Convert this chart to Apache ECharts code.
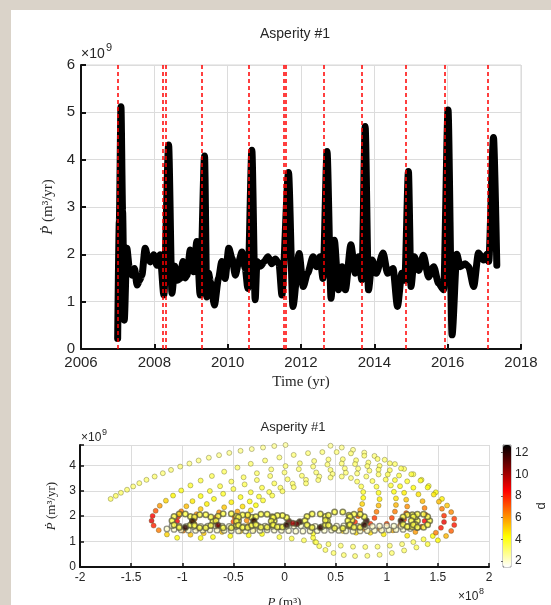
<!DOCTYPE html>
<html>
<head>
<meta charset="utf-8">
<script src="https://cdn.jsdelivr.net/npm/echarts@6/dist/echarts.min.js"></script>
<style>
  html, body { margin: 0; padding: 0; background: #dad3c9; }
  #panel { position: absolute; left: 11px; top: 10px; width: 540px; height: 595px; background: #fff; }
  #chart { position: absolute; left: 0; top: 0; width: 551px; height: 605px; }
</style>
</head>
<body>
<div id="panel"></div>
<div id="chart"></div>
<script>
// top panel: Pdot (x1e9 m^3/yr) against time
var tYears = [2007.00, 2007.045, 2007.09, 2007.135, 2007.18, 2007.25, 2007.32, 2007.39, 2007.46, 2007.53,
  2007.60, 2007.66, 2007.75, 2007.82, 2007.89, 2007.98, 2008.07, 2008.16, 2008.26, 2008.39,
  2008.48, 2008.56, 2008.63, 2008.71, 2008.78, 2008.84, 2008.89, 2008.98, 2009.07, 2009.16,
  2009.25, 2009.37, 2009.43, 2009.48, 2009.53, 2009.64, 2009.75, 2009.84, 2009.93, 2010.03,
  2010.12, 2010.21, 2010.30, 2010.39, 2010.48, 2010.55, 2010.66, 2010.75, 2010.80, 2010.90,
  2011.00, 2011.10, 2011.20, 2011.30, 2011.40, 2011.48, 2011.66, 2011.78, 2011.95, 2012.06,
  2012.18, 2012.33, 2012.42, 2012.52, 2012.60, 2012.71, 2012.82, 2012.91, 2013.02, 2013.12,
  2013.21, 2013.36, 2013.48, 2013.57, 2013.66, 2013.75, 2013.84, 2013.94, 2014.05, 2014.24,
  2014.36, 2014.51, 2014.63, 2014.75, 2014.83, 2014.93, 2015.00, 2015.09, 2015.21, 2015.34,
  2015.48, 2015.62, 2015.75, 2015.89, 2016.01, 2016.12, 2016.25, 2016.34, 2016.48, 2016.57,
  2016.71, 2016.84, 2016.98, 2017.07, 2017.12, 2017.25, 2017.34];
var tPdot = [0.22, 2.7, 5.12, 2.9, 0.61, 2.13, 1.7, 1.56, 1.7, 1.35,
  1.45, 1.56, 2.13, 1.95, 1.84, 1.99, 1.77, 1.99, 1.14, 4.31,
  1.18, 1.75, 1.45, 1.49, 1.85, 1.5, 1.56, 2.09, 1.63, 2.27,
  1.14, 4.08, 1.1, 1.6, 1.42, 0.93, 1.49, 1.85, 1.49, 2.13,
  1.91, 1.56, 1.84, 2.05, 1.7, 1.28, 4.20, 1.04, 1.85, 1.75,
  1.85, 1.95, 1.8, 1.9, 1.8, 1.14, 3.73, 0.9, 2.02, 1.32,
  1.6, 1.95, 1.74, 1.95, 1.49, 4.17, 1.07, 2.3, 1.25, 1.74,
  1.25, 2.2, 1.6, 1.95, 1.46, 4.70, 1.25, 1.88, 1.6, 2.03,
  1.6, 1.7, 0.9, 1.6, 1.45, 3.75, 1.32, 1.95, 1.66, 1.98,
  1.52, 1.74, 1.39, 1.25, 5.05, 0.30, 2.0, 1.74, 1.8, 1.74,
  1.32, 2.03, 1.88, 2.0, 1.85, 4.47, 1.77];
// red dashed event markers
var eventYears = [2007.01, 2008.23, 2008.30, 2009.29, 2010.57, 2011.52, 2011.58, 2012.62,
  2013.67, 2014.87, 2015.93, 2017.10];

// bottom panel: [P (x1e8 m^3), Pdot (x1e9 m^3/yr), d]
var arcA = [[-1.70,2.68,3.2],[-1.65,2.80,3.2],[-1.60,2.92,3.1],[-1.54,3.04,3.1],[-1.48,3.17,3.0],
  [-1.42,3.30,3.0],[-1.35,3.43,3.0],[-1.27,3.56,3.0],[-1.19,3.69,2.9],[-1.11,3.82,2.9],[-1.02,3.95,2.9],
  [-0.93,4.07,2.8],[-0.84,4.19,2.8],[-0.74,4.30,2.8],[-0.64,4.40,2.7],[-0.54,4.49,2.7],[-0.43,4.57,2.7],
  [-0.32,4.64,2.6],[-0.21,4.70,2.6],[-0.10,4.76,2.6],[0.01,4.80,2.5],[0.12,4.83,2.5],[0.23,4.84,2.5],
  [0.34,4.82,2.6],[0.45,4.77,2.6],[0.56,4.70,2.7],[0.67,4.61,2.7],[0.78,4.50,2.8],[0.88,4.37,2.9],
  [0.98,4.22,3.0],[1.08,4.05,3.1],[1.17,3.86,3.2],[1.26,3.65,3.4],[1.34,3.43,3.6],[1.41,3.19,3.8],
  [1.48,2.94,4.1],[1.54,2.68,4.5],[1.59,2.42,5.2],[1.63,2.16,6.3],[1.66,1.90,7.6],[1.66,1.65,8.2],
  [1.63,1.42,7.0],[1.58,1.22,5.5],[1.50,1.05,4.3],[1.40,0.90,3.6]];
var arcLow = [[1.29,0.77,3.3],[1.17,0.65,3.1],[1.05,0.55,3.0],[0.93,0.48,3.0],[0.81,0.44,3.0],
  [0.69,0.43,3.0],[0.58,0.47,3.0],[0.48,0.55,3.1],[0.40,0.67,3.2],[0.34,0.82,3.4],[0.30,0.98,3.6],
  [0.28,1.15,3.8],[0.28,1.32,4.0],
  [1.45,1.22,4.2],[1.36,1.09,3.6],[1.26,0.98,3.2],[1.15,0.90,3.0],[1.03,0.84,3.0],[0.91,0.80,3.0],
  [0.79,0.79,3.0],[0.67,0.80,3.0],[0.55,0.84,3.0],[0.43,0.90,3.1],[0.31,0.97,3.2],[0.19,1.05,3.3],
  [0.07,1.12,3.5],[-0.05,1.18,3.6]];
var arcB = [[-1.05,1.15,4.2],[-1.15,1.28,5.0],[-1.23,1.45,6.5],[-1.28,1.63,8.0],[-1.30,1.82,9.0],
  [-1.29,2.01,8.5],[-1.26,2.21,7.2],[-1.22,2.41,6.0],[-1.16,2.61,5.0],[-1.09,2.81,4.4],[-1.01,3.01,4.0],
  [-0.92,3.21,3.7],[-0.82,3.40,3.5],[-0.71,3.58,3.3],[-0.59,3.75,3.2],[-0.46,3.91,3.1],[-0.33,4.06,3.0],
  [-0.19,4.19,3.0],[-0.05,4.31,2.9],[0.09,4.41,2.9],[0.23,4.48,2.9],[0.37,4.52,2.9],[0.51,4.52,2.9],
  [0.65,4.47,3.0],[0.78,4.38,3.0],[0.91,4.25,3.1],[1.03,4.08,3.2],[1.14,3.88,3.3],[1.24,3.65,3.5],
  [1.33,3.40,3.8],[1.40,3.13,4.1],[1.46,2.85,4.6],[1.51,2.57,5.4],[1.54,2.29,6.5],[1.56,2.02,7.8],
  [1.56,1.77,8.8],[1.53,1.54,8.2],[1.48,1.35,6.5]];
var arcC = [[-0.82,1.14,4.2],[-0.92,1.27,5.2],[-0.99,1.43,6.5],[-1.03,1.61,8.0],[-1.05,1.80,8.8],
  [-1.04,1.99,8.0],[-1.01,2.19,6.6],[-0.96,2.39,5.4],[-0.90,2.59,4.6],[-0.82,2.79,4.1],[-0.73,2.99,3.8],
  [-0.63,3.18,3.5],[-0.52,3.36,3.3],[-0.40,3.53,3.2],[-0.27,3.69,3.1],[-0.13,3.84,3.0],[0.01,3.97,3.0],
  [0.15,4.08,3.0],[0.29,4.17,3.0],[0.43,4.23,3.0],[0.57,4.24,3.0],[0.70,4.20,3.1],[0.82,4.11,3.1],
  [0.93,3.98,3.2],[1.03,3.81,3.3],[1.12,3.60,3.5],[1.20,3.37,3.8],[1.26,3.12,4.2],[1.31,2.86,4.7],
  [1.35,2.59,5.5],[1.37,2.32,6.5],[1.38,2.06,7.6],[1.37,1.81,8.5],[1.34,1.58,7.8],[1.28,1.38,6.0],
  [1.20,1.23,4.6]];
var arcD = [[-0.70,1.18,4.2],[-0.79,1.33,5.2],[-0.85,1.50,6.2],[-0.88,1.69,7.0],[-0.88,1.88,7.0],
  [-0.86,2.08,6.2],[-0.82,2.28,5.2],[-0.76,2.48,4.5],[-0.69,2.68,4.1],[-0.60,2.88,3.8],[-0.50,3.07,3.5],
  [-0.39,3.25,3.3],[-0.27,3.42,3.2],[-0.14,3.58,3.1],[0.00,3.72,3.0],[0.14,3.85,3.0],[0.28,3.95,3.0],
  [0.42,4.03,3.0],[0.56,4.07,3.0],[0.69,4.05,3.1],[0.81,3.97,3.1],[0.92,3.83,3.2],[1.01,3.64,3.4],
  [1.08,3.42,3.7],[1.13,3.18,4.0],[1.17,2.92,4.5],[1.19,2.65,5.2],[1.20,2.38,6.2],[1.19,2.12,7.2],
  [1.17,1.87,7.8],[1.13,1.64,7.0],[1.06,1.44,5.6],[0.97,1.29,4.5]];
var arcE = [[-0.53,1.22,4.2],[-0.61,1.38,5.3],[-0.66,1.56,6.8],[-0.68,1.75,7.8],[-0.67,1.95,7.4],
  [-0.64,2.15,6.2],[-0.59,2.35,5.2],[-0.52,2.55,4.5],[-0.43,2.75,4.0],[-0.33,2.94,3.7],[-0.22,3.12,3.5],
  [-0.10,3.29,3.3],[0.03,3.45,3.2],[0.17,3.59,3.1],[0.31,3.72,3.0],[0.45,3.82,3.0],[0.59,3.88,3.0],
  [0.72,3.87,3.0],[0.83,3.79,3.1],[0.92,3.64,3.2],[0.99,3.44,3.4],[1.04,3.21,3.7],[1.07,2.96,4.1],
  [1.09,2.70,4.7],[1.09,2.44,5.5],[1.08,2.18,6.5],[1.05,1.93,7.5],[1.00,1.70,7.6],[0.93,1.50,6.2],
  [0.84,1.35,4.8]];
var arcF = [[-0.35,1.25,4.2],[-0.43,1.41,5.2],[-0.48,1.59,6.5],[-0.50,1.78,7.3],[-0.49,1.98,7.0],
  [-0.46,2.18,5.8],[-0.41,2.38,4.8],[-0.34,2.58,4.2],[-0.25,2.77,3.8],[-0.15,2.95,3.5],[-0.04,3.12,3.3],
  [0.08,3.28,3.2],[0.21,3.43,3.1],[0.34,3.56,3.0],[0.47,3.66,3.0],[0.60,3.71,3.0],[0.71,3.68,3.0],
  [0.80,3.56,3.1],[0.86,3.38,3.3],[0.90,3.16,3.6],[0.92,2.92,4.0],[0.93,2.67,4.6],[0.92,2.42,5.4],
  [0.90,2.17,6.5],[0.88,1.93,7.6],[0.84,1.70,7.8],[0.78,1.50,6.2],[0.70,1.35,4.8]];
var arcG = [[-0.22,1.30,4.2],[-0.30,1.46,5.0],[-0.35,1.64,5.8],[-0.37,1.83,6.2],[-0.36,2.03,5.6],
  [-0.33,2.23,4.8],[-0.28,2.43,4.2],[-0.21,2.62,3.8],[-0.12,2.81,3.5],[-0.02,2.98,3.3],[0.09,3.14,3.2],
  [0.21,3.29,3.1],[0.33,3.42,3.0],[0.45,3.52,3.0],[0.56,3.56,3.0],[0.65,3.50,3.0],[0.71,3.36,3.2],
  [0.75,3.17,3.4],[0.77,2.95,3.8],[0.77,2.72,4.3],[0.76,2.48,5.0],[0.74,2.24,6.0],[0.72,2.00,7.2],
  [0.69,1.77,7.8],[0.64,1.57,6.5],[0.57,1.42,5.0]];
// small loops near Pdot ~ 1.8
var loops = [
  [-0.9,1.82,3.5],[-0.92,1.99,3.5],[-0.97,2.09,3.5],[-1.03,2.09,5],[-1.08,1.99,3.5],[-1.1,1.82,3.5],[-1.08,1.65,3.5],[-1.03,1.55,3.5],[-0.97,1.55,12],[-0.92,1.65,3.5],
  [-0.7,1.8,3.5],[-0.72,1.97,3.5],[-0.77,2.06,3.5],[-0.83,2.06,3.5],[-0.88,1.97,3.5],[-0.9,1.8,12],[-0.88,1.63,3.5],[-0.83,1.54,3.5],[-0.77,1.54,3.5],[-0.72,1.63,3.5],
  [-0.45,1.82,3.5],[-0.47,2.0,3.5],[-0.52,2.1,3.5],[-0.6,2.1,3.5],[-0.65,2.0,3.5],[-0.67,1.82,3.5],[-0.65,1.64,11],[-0.6,1.54,3.5],[-0.52,1.54,3.5],[-0.47,1.64,3.5],
  [-0.3,1.8,3.5],[-0.32,1.96,3.5],[-0.36,2.05,3.5],[-0.41,2.05,3.5],[-0.45,1.96,3.5],[-0.47,1.8,3.5],[-0.45,1.64,3.5],[-0.41,1.55,3.5],[-0.36,1.55,3.5],[-0.32,1.64,3.5],
  [-0.1,1.82,3.5],[-0.12,1.98,3.5],[-0.17,2.08,3.5],[-0.23,2.08,3.5],[-0.28,1.98,3.5],[-0.3,1.82,12],[-0.28,1.66,3.5],[-0.23,1.56,3.5],[-0.17,1.56,3.5],[-0.12,1.66,3.5],
  [0.04,1.8,11],[0.02,1.95,3.5],[-0.02,2.03,3.5],[-0.07,2.03,3.5],[-0.11,1.95,3.5],[-0.13,1.8,3.5],[-0.11,1.65,3.5],[-0.07,1.57,3.5],[-0.02,1.57,3.5],[0.02,1.65,12],
  [0.15,1.78,12],[0.12,1.7,11],[0.08,1.72,10],
  [0.42,1.82,3.5],[0.4,1.99,3.5],[0.35,2.09,3.5],[0.27,2.09,3.5],[0.22,1.99,3.5],[0.2,1.82,3.5],[0.22,1.65,3.5],[0.27,1.55,3.5],[0.35,1.55,12],[0.4,1.65,3.5],
  [0.66,1.84,3.5],[0.63,2.04,3.5],[0.57,2.16,3.5],[0.49,2.16,3.5],[0.43,2.04,3.5],[0.4,1.84,3.5],[0.43,1.64,3.5],[0.49,1.52,3.5],[0.57,1.52,3.5],[0.63,1.64,3.5],
  [0.8,1.82,12],[0.78,1.98,3.5],[0.74,2.08,3.5],[0.68,2.08,3.5],[0.64,1.98,3.5],[0.62,1.82,3.5],[0.64,1.66,3.5],[0.68,1.56,3.5],[0.74,1.56,3.5],[0.78,1.66,12],
  [1.3,1.82,3.5],[1.28,1.97,3.5],[1.25,2.06,3.5],[1.2,2.06,3.5],[1.16,1.97,3.5],[1.14,1.82,12],[1.16,1.67,3.5],[1.2,1.58,3.5],[1.25,1.58,3.5],[1.28,1.67,3.5],
  [1.42,1.82,3.5],[1.4,1.98,3.5],[1.36,2.08,3.5],[1.3,2.08,3.5],[1.26,1.98,3.5],[1.24,1.82,3.5],[1.26,1.66,3.5],[1.3,1.56,3.5],[1.36,1.56,3.5],[1.4,1.66,3.5]];
// grey drift band under the loops
var band = [[-1.15,1.50,2],[-1.08,1.48,2],[-1.01,1.46,2],[-0.94,1.45,2],[-0.87,1.44,2],[-0.80,1.45,2],
  [-0.73,1.46,2],[-0.66,1.45,2],[-0.59,1.44,2],[-0.52,1.43,2],[-0.45,1.42,2],[-0.38,1.42,2],
  [-0.31,1.43,2],[-0.24,1.44,2],[-0.17,1.46,2],[-0.10,1.45,2],[-0.03,1.44,2],[0.04,1.43,2],
  [0.11,1.41,2],[0.18,1.41,2],[0.25,1.42,2],[0.32,1.43,2],[0.39,1.44,2],[0.46,1.45,2],
  [0.53,1.44,2],[0.60,1.42,2],[0.67,1.41,2],[0.74,1.42,2],[0.81,1.43,2],[0.88,1.44,2],
  [0.95,1.45,2],[1.02,1.46,2],[1.09,1.47,2],[1.16,1.48,2],[1.23,1.51,2],[1.30,1.55,2],
  [-1.10,1.62,2],[-1.03,1.61,2],[-0.96,1.60,2],[-0.89,1.59,2],[-0.82,1.60,2],[-0.75,1.61,2],
  [-0.68,1.62,2],[-0.61,1.61,2],[-0.54,1.60,2],[-0.47,1.59,2],[-0.40,1.59,2],[-0.33,1.60,2],
  [-0.26,1.62,2],[-0.19,1.61,2],[-0.12,1.60,2],[-0.05,1.59,2],[0.02,1.60,2],[0.09,1.61,2],
  [0.16,1.62,2],[0.23,1.61,2],[0.30,1.60,2],[0.37,1.59,2],[0.44,1.60,2],[0.51,1.61,2],
  [0.58,1.62,2],[0.65,1.61,2],[0.72,1.60,2],[0.79,1.59,2],[0.86,1.60,2],[0.93,1.61,2],
  [1.00,1.62,2],[1.07,1.61,2],[1.14,1.60,2],[1.21,1.60,2]];

var dMin = 1.45, dMax = 12.7;
var dTicks = [2, 4, 6, 8, 10, 12];

var txt = '#262626';
var sans = 'Liberation Sans, Arial, sans-serif';
var serif = 'Liberation Serif, Times New Roman, serif';

var chart = echarts.init(document.getElementById('chart'));

var lineData = tYears.map(function (y, i) { return [y, tPdot[i]]; });

function scatter(name, data, size, border, bw) {
  return {
    name: name, type: 'scatter', xAxisIndex: 1, yAxisIndex: 1,
    data: data, symbolSize: size,
    itemStyle: { borderColor: border, borderWidth: bw },
    silent: true
  };
}
var arcEdge = 'rgba(90,90,30,0.6)';
var loopEdge = 'rgba(85,85,55,0.9)';

var option = {
  animation: false,
  title: [
    { text: 'Asperity #1', left: 290, top: 22, textAlign: 'center',
      textStyle: { fontFamily: sans, fontSize: 14, fontWeight: 'normal', color: txt } },
    { text: 'Asperity #1', left: 288, top: 416, textAlign: 'center',
      textStyle: { fontFamily: sans, fontSize: 13, fontWeight: 'normal', color: txt } }
  ],
  grid: [
    { left: 81, top: 65, width: 440, height: 284, show: true, borderColor: '#d6d6d6', borderWidth: 1,
      outerBoundsMode: 'none' },
    { left: 80, top: 445, width: 409, height: 122, show: false, outerBoundsMode: 'none' },
    { left: 503, top: 445, width: 8, height: 122, show: true, borderColor: '#999', borderWidth: 1,
      outerBoundsMode: 'none' }
  ],
  xAxis: [
    { type: 'value', gridIndex: 0, min: 2006, max: 2018, interval: 2,
      name: 'Time (yr)', nameLocation: 'middle', nameGap: 26,
      nameTextStyle: { fontFamily: serif, fontSize: 15, color: txt },
      axisLine: { lineStyle: { color: '#111', width: 2 } },
      axisTick: { inside: true, length: 5, lineStyle: { color: '#111', width: 2 } },
      axisLabel: { fontFamily: sans, fontSize: 15, color: txt, margin: 6,
        formatter: function (v) { return String(v); } },
      splitLine: { lineStyle: { color: '#dcdcdc' } } },
    { type: 'value', gridIndex: 1, min: -2, max: 2, interval: 0.5,
      name: '{i|P} (m³)', nameLocation: 'middle', nameGap: 29,
      nameTextStyle: { fontFamily: serif, fontSize: 13, color: txt,
        rich: { i: { fontFamily: serif, fontSize: 13, fontStyle: 'italic', color: txt } } },
      axisLine: { onZero: false, lineStyle: { color: '#111', width: 2 } },
      axisTick: { inside: true, length: 4, lineStyle: { color: '#111', width: 1.5 } },
      axisLabel: { fontFamily: sans, fontSize: 12, color: txt, margin: 5 },
      splitLine: { lineStyle: { color: '#dcdcdc' } } },
    { type: 'value', gridIndex: 2, min: 0, max: 1, show: false }
  ],
  yAxis: [
    { type: 'value', gridIndex: 0, min: 0, max: 6, interval: 1,
      name: '{i|Ṗ} (m³/yr)', nameLocation: 'middle', nameGap: 12,
      nameTextStyle: { fontFamily: serif, fontSize: 15, color: txt,
        rich: { i: { fontFamily: serif, fontSize: 15, fontStyle: 'italic', color: txt } } },
      axisLine: { lineStyle: { color: '#111', width: 2 } },
      axisTick: { inside: true, length: 5, lineStyle: { color: '#111', width: 2 } },
      axisLabel: { fontFamily: sans, fontSize: 15, color: txt, margin: 6 },
      splitLine: { lineStyle: { color: '#dcdcdc' } } },
    { type: 'value', gridIndex: 1, min: 0, max: 4.8, interval: 1,
      name: '{i|Ṗ} (m³/yr)', nameLocation: 'middle', nameGap: 12,
      nameTextStyle: { fontFamily: serif, fontSize: 13, color: txt,
        rich: { i: { fontFamily: serif, fontSize: 13, fontStyle: 'italic', color: txt } } },
      axisLine: { onZero: false, lineStyle: { color: '#111', width: 2 } },
      axisTick: { inside: true, length: 4, lineStyle: { color: '#111', width: 1.5 } },
      axisLabel: { fontFamily: sans, fontSize: 12, color: txt, margin: 4,
        formatter: function (v) { return v % 1 === 0 ? String(v) : ''; } },
      splitLine: { lineStyle: { color: '#dcdcdc' } } },
    { type: 'value', gridIndex: 2, min: dMin, max: dMax, position: 'right',
      name: 'd', nameLocation: 'middle', nameGap: 24, nameRotate: 90,
      nameTextStyle: { fontFamily: sans, fontSize: 13, color: txt },
      axisLine: { show: true, lineStyle: { color: '#888', width: 1 } },
      axisTick: { show: true, inside: true, length: 2, customValues: dTicks, lineStyle: { color: '#666' } },
      axisLabel: { fontFamily: sans, fontSize: 12, color: txt, margin: 4, customValues: dTicks },
      splitLine: { show: false } }
  ],
  visualMap: {
    type: 'continuous', min: dMin, max: dMax, dimension: 2,
    seriesIndex: [1, 2, 3, 4, 5, 6, 7, 8, 9, 10],
    left: 488, top: 430, itemWidth: 8, itemHeight: 122,
    calculable: false, hoverLink: false,
    inRange: { color: ['#ffffff', '#ffff80', '#ffff00', '#ffaa00', '#ff5500', '#ff0000', '#aa0000', '#550000', '#000000'] }
  },
  graphic: [
    { type: 'text', left: 81, top: 47, style: { text: '×10', font: '14px Liberation Sans', fill: txt } },
    { type: 'text', left: 106, top: 42, style: { text: '9', font: '11px Liberation Sans', fill: txt } },
    { type: 'text', left: 81, top: 432, style: { text: '×10', font: '12px Liberation Sans', fill: txt } },
    { type: 'text', left: 102, top: 428, style: { text: '9', font: '9px Liberation Sans', fill: txt } },
    { type: 'text', left: 458, top: 591, style: { text: '×10', font: '12px Liberation Sans', fill: txt } },
    { type: 'text', left: 479, top: 587, style: { text: '8', font: '9px Liberation Sans', fill: txt } }
  ],
  series: [
    { type: 'line', xAxisIndex: 0, yAxisIndex: 0, data: lineData,
      showSymbol: false, smooth: 0.25, smoothMonotone: 'x',
      lineStyle: { color: '#000', width: 7, join: 'round', cap: 'round' },
      z: 3,
      markLine: { silent: true, symbol: 'none', label: { show: false },
        lineStyle: { color: '#ff0000', type: [4, 3], width: 1.5 },
        data: eventYears.map(function (y) { return { xAxis: y }; }) } },
    scatter('arcA', arcA, 5, arcEdge, 0.8), scatter('arcLow', arcLow, 5, arcEdge, 0.8),
    scatter('arcB', arcB, 5, arcEdge, 0.8), scatter('arcC', arcC, 5, arcEdge, 0.8),
    scatter('arcD', arcD, 5, arcEdge, 0.8), scatter('arcE', arcE, 5, arcEdge, 0.8),
    scatter('arcF', arcF, 5, arcEdge, 0.8), scatter('arcG', arcG, 5, arcEdge, 0.8),
    scatter('band', band, 5.5, 'rgba(95,95,85,0.85)', 1.3), scatter('loops', loops, 5.5, loopEdge, 1.5)
  ]
};
chart.setOption(option);
</script>
</body>
</html>
